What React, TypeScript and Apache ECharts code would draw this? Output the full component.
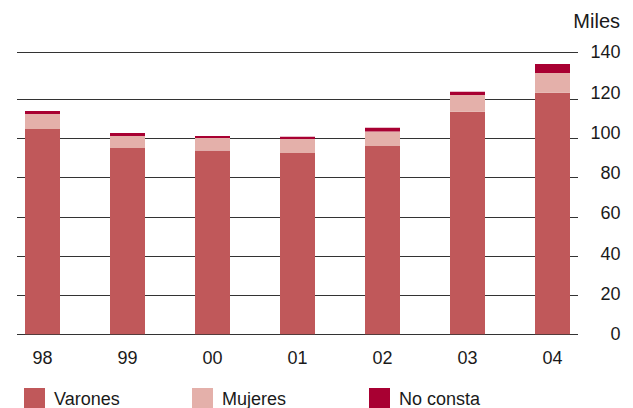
import React, { useEffect, useRef } from "react";
import * as echarts from "echarts";

const years = ["98", "99", "00", "01", "02", "03", "04"];
const varones = [104.8, 95.1, 93.8, 92.6, 96.2, 113.7, 123.3];
const mujeres = [7.7, 6.1, 6.4, 7.1, 7.3, 8.5, 10.1];
const noConsta = [1.5, 1.6, 1.1, 1.2, 2.0, 1.7, 4.6];
const seriesNames = ["Varones", "Mujeres", "No consta"];
const seriesColors = ["#c0585a", "#e4b0aa", "#a80032"];
const unitLabel = "Miles";

const FONT = "'Liberation Sans', Arial, sans-serif";
const TEXT = "#1a1a1a";

export default function App() {
  const ref = useRef<HTMLDivElement>(null);
  useEffect(() => {
    if (!ref.current) return;
    const chart = echarts.init(ref.current, null, { renderer: "svg" });
    const gridTop = 52.3;
    const gridBottom = 408 - 334.3;
    const lineColors = ["#333", "#333", "#333", "#333", "#333", "#333", "#333", "rgba(0,0,0,0)", "#333"];
    const data = [varones, mujeres, noConsta];
    const legendLefts = [24, 192, 369];
    chart.setOption({
      animation: false,
      textStyle: { fontFamily: FONT },
      grid: [
        { left: 17, right: 55, top: gridTop, bottom: gridBottom },
        { left: 0, right: 38, top: gridTop, bottom: gridBottom },
      ],
      xAxis: [
        { gridIndex: 0, type: "category", data: years, show: false },
        {
          gridIndex: 1,
          type: "category",
          data: years,
          axisLine: { show: false },
          axisTick: { show: false },
          axisLabel: { fontSize: 18, color: TEXT, margin: 15, fontFamily: FONT },
        },
      ],
      yAxis: [
        {
          gridIndex: 0,
          type: "value",
          min: 0,
          max: 144,
          interval: 20,
          position: "right",
          axisLine: { show: false },
          axisTick: { show: false },
          axisLabel: { show: false },
          splitLine: { show: true, lineStyle: { color: lineColors, width: 1 } },
        },
        {
          gridIndex: 0,
          type: "value",
          min: 0,
          max: 140,
          interval: 20,
          position: "right",
          axisLine: { show: false },
          axisTick: { show: false },
          splitLine: { show: false },
          axisLabel: { align: "right", margin: 42.5, fontSize: 18, color: TEXT, fontFamily: FONT },
        },
        {
          gridIndex: 1,
          type: "value",
          min: 0,
          max: 144,
          show: false,
          splitLine: { show: false },
        },
      ],
      legend: seriesNames.map((n, i) => ({
        data: [n],
        left: legendLefts[i],
        top: 388,
        padding: 0,
        itemWidth: 21,
        itemHeight: 21,
        icon: "rect",
        selectedMode: false,
        textStyle: { fontSize: 18, color: TEXT, fontFamily: FONT, padding: [0, 0, 0, 4] },
      })),
      graphic: [
        {
          type: "text",
          right: 13,
          top: 11,
          style: { text: unitLabel, fontSize: 20, fill: TEXT, fontFamily: FONT },
        },
      ],
      series: seriesNames.map((n, i) => ({
        name: n,
        type: "bar",
        stack: "total",
        xAxisIndex: 1,
        yAxisIndex: 2,
        barWidth: 35,
        itemStyle: { color: seriesColors[i] },
        data: data[i],
      })),
    });
    return () => chart.dispose();
  }, []);
  return (
    <div
      ref={ref}
      style={{ position: "fixed", left: 0, top: 0, width: 633, height: 408, background: "#fff" }}
    />
  );
}
